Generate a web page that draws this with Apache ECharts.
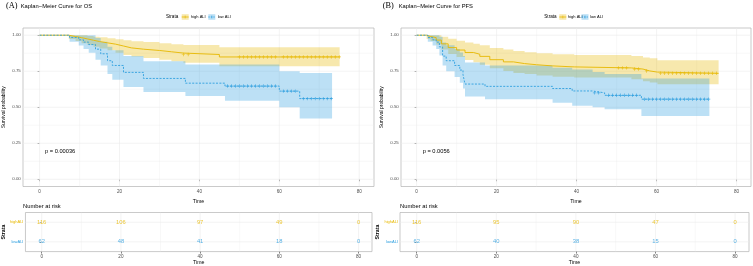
<!DOCTYPE html>
<html><head><meta charset="utf-8">
<script src="https://cdn.jsdelivr.net/npm/echarts@6/dist/echarts.min.js"></script>
<style>html,body{margin:0;padding:0;background:#fff}#c{width:753px;height:266px}</style>
</head><body><div id="c"></div>
<script>
// ---------- data ----------
const timeTicks = [0, 20, 40, 60, 80];
const timeMinor = [10, 30, 50, 70];
const probTicks = [0, 0.25, 0.5, 0.75, 1];
const probMinor = [0.125, 0.375, 0.625, 0.875];
const strata = ['lowALI', 'highALI'];
const riskTimes = [0, 20, 40, 60, 80];

// OS, high ALI
const osHighT  = [0, 7.3, 9, 10.5, 12, 13.5, 15, 17, 19, 21, 23, 26, 30, 33, 36, 45, 75.1];
const osHighS  = [1, 0.991, 0.983, 0.974, 0.965, 0.956, 0.947, 0.938, 0.925, 0.912, 0.903, 0.894, 0.885, 0.876, 0.866, 0.849, 0.849];
const osHighUp = [1, 1, 1, 1, 0.995, 0.99, 0.985, 0.978, 0.972, 0.965, 0.958, 0.952, 0.945, 0.938, 0.932, 0.916, 0.916];
const osHighLo = [1, 0.974, 0.96, 0.945, 0.932, 0.92, 0.908, 0.896, 0.878, 0.862, 0.852, 0.842, 0.83, 0.82, 0.808, 0.785, 0.785];
const osHighCens = [36, 37.2, 50, 51, 52, 53, 54, 55, 56, 57, 58, 59, 61, 62, 63, 64, 65, 66, 67, 68, 69, 70, 71, 72, 73, 74, 75];
// OS, low ALI
const osLowT  = [0, 7.5, 9.8, 11, 12.3, 14, 15.3, 17, 18.2, 21, 26, 36.5, 46.4, 60, 65.1, 73.2];
const osLowS  = [1, 0.984, 0.968, 0.952, 0.935, 0.903, 0.871, 0.823, 0.79, 0.742, 0.7, 0.667, 0.647, 0.612, 0.56, 0.56];
const osLowUp = [1, 1, 1, 1, 1, 0.98, 0.955, 0.92, 0.895, 0.855, 0.82, 0.797, 0.796, 0.75, 0.738, 0.738];
const osLowLo = [1, 0.954, 0.928, 0.905, 0.878, 0.83, 0.79, 0.73, 0.69, 0.64, 0.605, 0.578, 0.545, 0.5, 0.422, 0.422];
const osLowCens = [47, 48, 49, 50, 51, 52, 53, 54, 55, 56, 57, 58, 59, 61, 62, 63, 64, 66, 67, 68, 69, 70, 71, 72, 73];

// PFS, high ALI
const pfsHighT  = [0, 2.5, 3.5, 4.9, 6.2, 7.9, 10, 12.1, 14.2, 15.8, 18.3, 21.7, 24.2, 27, 30, 34, 39.4, 53.7, 56.6, 58.3, 60.2, 75.5];
const pfsHighS  = [1, 0.991, 0.983, 0.966, 0.94, 0.914, 0.897, 0.88, 0.868, 0.853, 0.83, 0.815, 0.803, 0.795, 0.787, 0.78, 0.773, 0.765, 0.752, 0.744, 0.736, 0.736];
const pfsHighUp = [1, 1, 1, 1, 0.99, 0.975, 0.962, 0.95, 0.94, 0.93, 0.912, 0.9, 0.89, 0.882, 0.875, 0.868, 0.862, 0.856, 0.845, 0.84, 0.826, 0.826];
const pfsHighLo = [1, 0.974, 0.96, 0.935, 0.9, 0.87, 0.848, 0.828, 0.812, 0.795, 0.77, 0.752, 0.738, 0.73, 0.72, 0.712, 0.706, 0.695, 0.68, 0.672, 0.66, 0.66];
const pfsHighCens = [50.5, 51.5, 52.5, 54.5, 55.5, 57.5, 61, 62, 63, 64, 65, 66, 67, 68, 69, 70, 71, 72, 73, 74, 75];
// PFS, low ALI
const pfsLowT  = [0, 2.8, 4, 4.9, 5.7, 6.5, 7.4, 9.5, 10.8, 11.6, 12.1, 17.1, 34, 38.9, 44, 47, 56.2, 73.2];
const pfsLowS  = [1, 0.984, 0.968, 0.952, 0.919, 0.855, 0.823, 0.79, 0.758, 0.726, 0.661, 0.645, 0.63, 0.613, 0.6, 0.583, 0.556, 0.556];
const pfsLowUp = [1, 1, 1, 1, 0.99, 0.95, 0.93, 0.905, 0.88, 0.855, 0.81, 0.79, 0.775, 0.762, 0.745, 0.73, 0.70, 0.70];
const pfsLowLo = [1, 0.954, 0.928, 0.905, 0.86, 0.79, 0.75, 0.71, 0.67, 0.63, 0.575, 0.555, 0.532, 0.51, 0.5, 0.486, 0.44, 0.44];
const pfsLowCens = [44.5, 45.5, 48, 49, 50, 51, 52, 53, 54, 55, 57, 58, 59, 60, 61, 62, 63, 64, 65, 66, 67, 68, 69, 70, 71, 72, 73];

// Number at risk
const osRiskHigh  = [116, 106, 97, 49, 0];
const osRiskLow   = [62, 48, 41, 18, 0];
const pfsRiskHigh = [116, 95, 90, 47, 0];
const pfsRiskLow  = [62, 40, 38, 15, 0];

const pValues = ['p = 0.00036', 'p = 0.0056'];
const titles = ['Kaplan\u2212Meier Curve for OS', 'Kaplan\u2212Meier Curve for PFS'];
const tags = ['(A)', '(B)'];
const legendNames = ['high ALI', 'low ALI'];

// ---------- rendering ----------
const YEL = '#E7B800', BLU = '#2E9FDF';
const YELA = 'rgba(231,184,0,0.32)', BLUA = 'rgba(46,159,223,0.32)';
const SANS = '"Liberation Sans", Arial, sans-serif';
const GRID_C = '#EBEBEB';

function stepAt(T, S, t) { let v = S[0]; for (let i = 0; i < T.length; i++) if (T[i] <= t) v = S[i]; return v; }

const PLUS = 'path://M4,0H6V4H10V6H6V10H4V6H0V4H4Z';

const grids = [], xAxes = [], yAxes = [], series = [];

function axisX(g, min, max) {
  return {
    type: 'value', gridIndex: g, min: min, max: max,
    axisLine: { show: false },
    axisTick: { show: true, customValues: timeTicks, length: 2, lineStyle: { color: '#333', width: 0.6 } },
    axisLabel: { customValues: timeTicks, fontSize: 4.6, color: '#4D4D4D', margin: 2.5, fontFamily: SANS },
    splitLine: { show: false },
    name: 'Time', nameLocation: 'middle', nameGap: 6.8,
    nameTextStyle: { fontSize: 5.2, color: '#000', fontFamily: SANS }
  };
}

function gridLines(g, xs, xsMinor, ys, ysMinor) {
  return {
    type: 'custom', xAxisIndex: g, yAxisIndex: g, silent: true, z: 1, data: [[0, 0]],
    renderItem: (params, api) => {
      const cs = params.coordSys;
      const ch = [];
      const vl = (v, w) => { const x = api.coord([v, 0])[0]; ch.push({ type: 'line', shape: { x1: x, y1: cs.y, x2: x, y2: cs.y + cs.height }, style: { stroke: GRID_C, lineWidth: w } }); };
      const hl = (v, w) => { const y = api.coord([0, v])[1]; ch.push({ type: 'line', shape: { x1: cs.x, y1: y, x2: cs.x + cs.width, y2: y }, style: { stroke: GRID_C, lineWidth: w } }); };
      xsMinor.forEach(v => vl(v, 0.35)); ysMinor.forEach(v => hl(v, 0.35));
      xs.forEach(v => vl(v, 0.6)); ys.forEach(v => hl(v, 0.6));
      return { type: 'group', children: ch };
    }
  };
}

function addBand(g, T, Up, Lo, fill) {
  series.push({
    type: 'custom', xAxisIndex: g, yAxisIndex: g, silent: true, z: 2, data: [[T[0], Up[0]]],
    renderItem: (params, api) => {
      const pts = [];
      for (let i = 0; i < T.length; i++) { pts.push(api.coord([T[i], Up[i]])); if (i < T.length - 1) pts.push(api.coord([T[i + 1], Up[i]])); }
      for (let i = T.length - 1; i >= 0; i--) { if (i < T.length - 1) pts.push(api.coord([T[i + 1], Lo[i]])); pts.push(api.coord([T[i], Lo[i]])); }
      return { type: 'polygon', shape: { points: pts }, style: { fill: fill } };
    }
  });
}
function addLine(g, T, S, cens, color, dashed) {
  series.push({ type: 'line', xAxisIndex: g, yAxisIndex: g, step: 'end',
    data: T.map((t, i) => [t, S[i]]), symbol: 'none', silent: true, z: 4,
    lineStyle: { color: color, width: 0.9, type: dashed ? [2, 1.4] : 'solid' } });
  series.push({ type: 'scatter', xAxisIndex: g, yAxisIndex: g, symbol: PLUS, symbolSize: 3.4, silent: true, z: 5,
    itemStyle: { color: color }, data: cens.map(t => [t, stepAt(T, S, t)]) });
}

const panels = [
  { kmLeft: 23, kmW: 351, xMin: -4.15, xMax: 83.7, tbLeft: 23, tbW: 349, tMin: -4.1, tMax: 83.4,
    high: [osHighT, osHighS, osHighUp, osHighLo, osHighCens], low: [osLowT, osLowS, osLowUp, osLowLo, osLowCens],
    riskH: osRiskHigh, riskL: osRiskLow },
  { kmLeft: 401, kmW: 350, xMin: -3.9, xMax: 83.6, tbLeft: 400, tbW: 349, tMin: -4.2, tMax: 83.5,
    high: [pfsHighT, pfsHighS, pfsHighUp, pfsHighLo, pfsHighCens], low: [pfsLowT, pfsLowS, pfsLowUp, pfsLowLo, pfsLowCens],
    riskH: pfsRiskHigh, riskL: pfsRiskLow }
];

panels.forEach((p, k) => {
  const gk = k * 2, gt = k * 2 + 1;
  grids.push({ left: p.kmLeft, top: 28, width: p.kmW, height: 158.5, show: true, borderColor: '#B3B3B3', borderWidth: 0.7, backgroundColor: '#fff' });
  grids.push({ left: p.tbLeft, top: 212.5, width: p.tbW, height: 41.5, show: true, borderColor: '#B3B3B3', borderWidth: 0.7, backgroundColor: '#fff' });
  xAxes.push(axisX(gk, p.xMin, p.xMax));
  xAxes.push(axisX(gt, p.tMin, p.tMax));
  yAxes.push({
    type: 'value', gridIndex: gk, min: -0.05, max: 1.05,
    axisLine: { show: false },
    axisTick: { show: true, customValues: probTicks, length: 2, lineStyle: { color: '#333', width: 0.6 } },
    axisLabel: { customValues: probTicks, fontSize: 4.4, color: '#4D4D4D', margin: 2.2, fontFamily: SANS, formatter: v => v.toFixed(2) },
    splitLine: { show: false },
    name: 'Survival probability', nameLocation: 'middle', nameGap: 16.5, nameRotate: 90,
    nameTextStyle: { fontSize: 5, color: '#000', fontFamily: SANS }
  });
  yAxes.push({
    type: 'category', gridIndex: gt, data: strata,
    axisLine: { show: false },
    axisTick: { show: true, alignWithLabel: true, length: 2, lineStyle: { color: '#333', width: 0.6 } },
    axisLabel: { margin: 2, fontFamily: SANS,
      formatter: v => (v === 'highALI' ? '{h|' : '{l|') + v + '}',
      rich: { h: { color: YEL, fontSize: 4, fontFamily: SANS }, l: { color: BLU, fontSize: 4, fontFamily: SANS } } },
    splitLine: { show: false },
    name: 'Strata', nameLocation: 'middle', nameGap: 16, nameRotate: 90,
    nameTextStyle: { fontSize: 5.2, color: '#000', fontWeight: 'bold', fontFamily: SANS }
  });
  series.push(gridLines(gk, timeTicks, timeMinor, probTicks, probMinor));
  series.push(gridLines(gt, timeTicks, timeMinor, [0, 1], []));
  addBand(gk, p.high[0], p.high[2], p.high[3], YELA);
  addBand(gk, p.low[0], p.low[2], p.low[3], BLUA);
  addLine(gk, p.high[0], p.high[1], p.high[4], YEL, false);
  addLine(gk, p.low[0], p.low[1], p.low[4], BLU, true);
  [[p.riskH, 1, YEL], [p.riskL, 0, BLU]].forEach(([arr, idx, col]) => {
    series.push({ type: 'scatter', xAxisIndex: gt, yAxisIndex: gt, symbolSize: 0, silent: true, z: 5,
      data: riskTimes.map((t, i) => [t, idx, arr[i]]),
      label: { show: true, position: 'inside', formatter: q => String(q.value[2]), color: col, fontSize: 5.8, fontFamily: SANS } });
  });
});

const graphic = [];
const titleX = [[6, 20.7], [382.7, 398.7]];
const legendX = [[166, 181.7, 191, 208.3, 217.7], [544.3, 559.3, 568, 581.5, 590]];
const pPos = [[45, 151], [422.7, 151.5]];
for (let k = 0; k < 2; k++) {
  graphic.push({ type: 'text', left: titleX[k][0], top: 1.5, style: { text: tags[k], font: '8.3px "Liberation Serif", serif', fill: '#000' } });
  graphic.push({ type: 'text', left: titleX[k][1], top: 3.2, style: { text: titles[k], font: '5.8px ' + SANS, fill: '#000' } });
  const L = legendX[k];
  graphic.push({ type: 'text', x: L[0], y: 17, style: { text: 'Strata', font: '4.6px ' + SANS, fill: '#000', verticalAlign: 'middle' } });
  [[L[1], L[2], YEL, YELA, legendNames[0], false], [L[3], L[4], BLU, BLUA, legendNames[1], true]].forEach(([kx, tx, c, f, name, dash]) => {
    graphic.push({ type: 'rect', shape: { x: kx, y: 14.2, width: 7, height: 5.6 }, style: { fill: f } });
    graphic.push({ type: 'line', shape: { x1: kx, y1: 17, x2: kx + 7, y2: 17 }, style: { stroke: c, lineWidth: 0.8, lineDash: dash ? [1.5, 1] : null } });
    graphic.push({ type: 'line', shape: { x1: kx + 3.5, y1: 15.6, x2: kx + 3.5, y2: 18.4 }, style: { stroke: c, lineWidth: 0.6 } });
    graphic.push({ type: 'text', x: tx, y: 17, style: { text: name, font: '4px ' + SANS, fill: '#000', verticalAlign: 'middle' } });
  });
  graphic.push({ type: 'text', x: pPos[k][0], y: pPos[k][1], style: { text: pValues[k], font: '5.7px ' + SANS, fill: '#000', verticalAlign: 'middle' } });
  graphic.push({ type: 'text', x: panels[k].tbLeft, y: 206, style: { text: 'Number at risk', font: '5.8px ' + SANS, fill: '#000', verticalAlign: 'middle' } });
}

const chart = echarts.init(document.getElementById('c'), null, { renderer: 'canvas' });
chart.setOption({
  animation: false,
  backgroundColor: '#fff',
  grid: grids, xAxis: xAxes, yAxis: yAxes, series: series, graphic: graphic
});
</script></body></html>
